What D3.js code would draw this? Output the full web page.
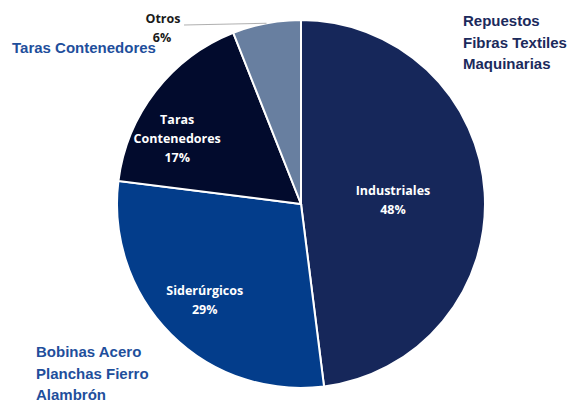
<!DOCTYPE html>
<html lang="es">
<head>
<meta charset="UTF-8">
<title>Composición de carga</title>
<script src="https://d3js.org/d3.v7.min.js"></script>
<style>
  body { margin: 0; background: #fff; }
  .inner { font-family: "Open Sans", sans-serif; font-weight: bold; font-size: 12.5px; fill: #fff; }
  .note { font-family: "Liberation Sans", Arial, sans-serif; font-weight: bold; font-size: 15px; }
</style>
</head>
<body>
<div id="chart"></div>
<script>
// slice data
const categories = ["Industriales", "Siderúrgicos", "Taras Contenedores", "Otros"];
const shares = [48, 29, 17, 6];
const colors = ["#16275a", "#033d8b", "#020b2d", "#687fa0"];
// inner label lines
const labelLines = [["Industriales"], ["Siderúrgicos"], ["Taras", "Contenedores"], ["Otros"]];

const notesRight = ["Repuestos", "Fibras Textiles", "Maquinarias"];
const notesBottom = ["Bobinas Acero", "Planchas Fierro", "Alambrón"];
const notesLeft = ["Taras Contenedores"];

const width = 568, height = 405;
const cx = 301, cy = 204, radius = 184;

const svg = d3.select("#chart").append("svg")
    .attr("width", width)
    .attr("height", height);

const data = categories.map((c, i) => ({ name: c, value: shares[i], lines: labelLines[i], color: colors[i] }));

const pie = d3.pie().sort(null).value(d => d.value);
const arc = d3.arc().innerRadius(0).outerRadius(radius);

const g = svg.append("g").attr("transform", `translate(${cx},${cy})`);
const arcs = pie(data);

g.selectAll("path")
    .data(arcs)
    .enter()
    .append("path")
    .attr("d", arc)
    .attr("fill", d => d.data.color)
    .attr("stroke", "white")
    .style("stroke-width", "2px");

// labels inside slices (all except Otros): [radius factor, angle shift]
const labelPos = { "Industriales": [0.5, 0.03], "Siderúrgicos": [0.74, 0], "Taras Contenedores": [0.76, -0.176] };
arcs.filter(d => d.data.name !== "Otros").forEach(d => {
    const mid = (d.startAngle + d.endAngle) / 2 + labelPos[d.data.name][1];
    const rr = radius * labelPos[d.data.name][0];
    const x = rr * Math.sin(mid), y = -rr * Math.cos(mid);
    const lines = d.data.lines.concat([d.data.value + "%"]);
    const t = g.append("text").attr("class", "inner").attr("text-anchor", "middle");
    lines.forEach((l, i) => {
        t.append("tspan")
            .attr("x", x)
            .attr("y", y + (i - (lines.length - 1) / 2) * 19 + 4)
            .text(l);
    });
});

// Otros label outside with leader line
const otros = arcs[3];
const om = (otros.startAngle + otros.endAngle) / 2;
const edge = [radius * Math.sin(om), -radius * Math.cos(om)];
g.append("line")
    .attr("x1", edge[0]).attr("y1", edge[1])
    .attr("x2", -117).attr("y2", -179)
    .attr("stroke", "#b0b0b0").attr("stroke-width", 1.2);
const ot = g.append("text").attr("class", "inner").style("fill", "#1a1a1a").attr("text-anchor", "middle");
ot.append("tspan").attr("x", -138).attr("y", -181).text("Otros");
ot.append("tspan").attr("x", -139).attr("y", -162).text(otros.data.value + "%");

// side annotations
function notes(lines, x, y0, color) {
    svg.append("text").attr("class", "note").style("fill", color)
        .selectAll("tspan").data(lines).enter().append("tspan")
        .attr("x", x).attr("y", (d, i) => y0 + i * 21.5)
        .text(d => d);
}
notes(notesRight, 463, 26, "#1b2a5c");
notes(notesLeft, 12, 53, "#1f4f9c");
notes(notesBottom, 36, 357, "#1f4f9c");
</script>
</body>
</html>
